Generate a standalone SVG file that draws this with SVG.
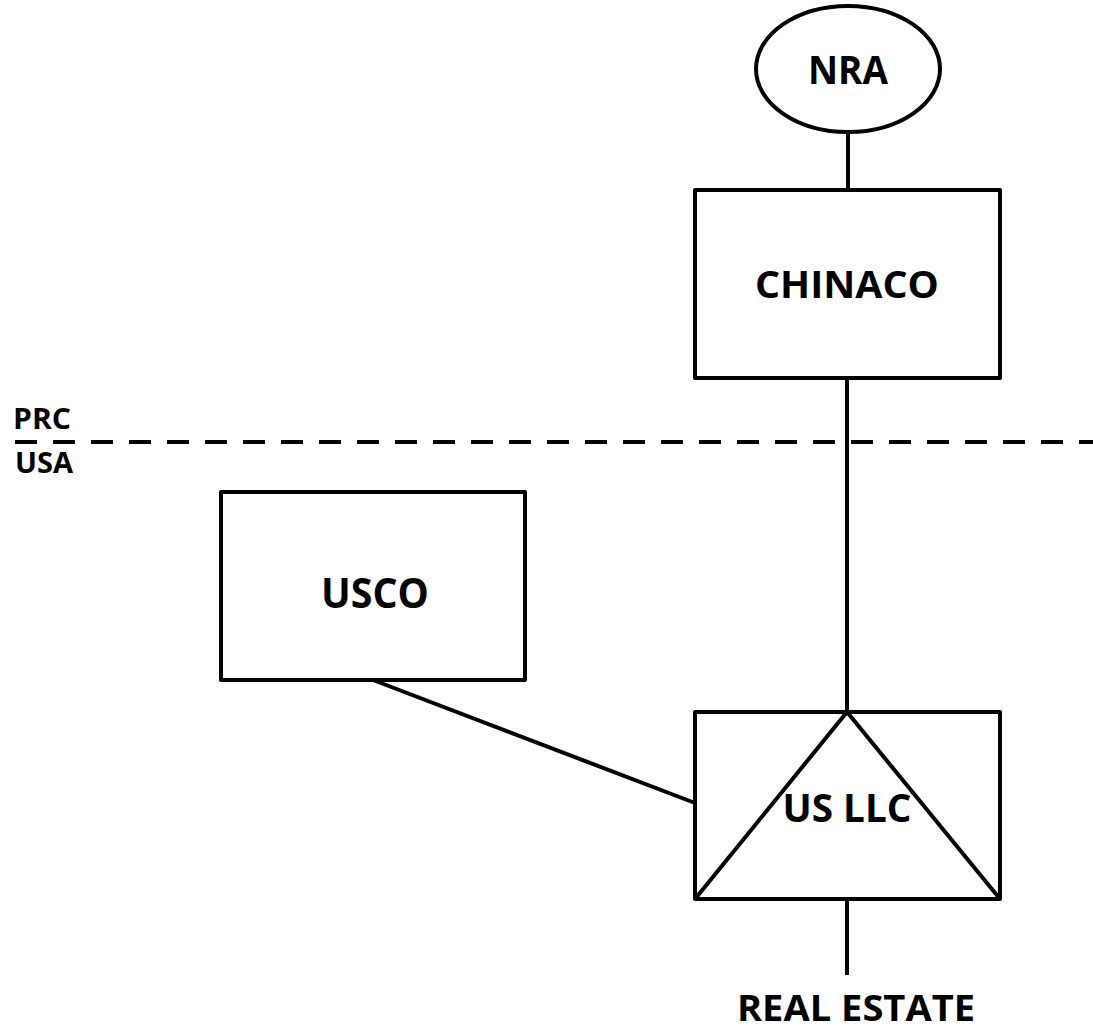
<svg xmlns="http://www.w3.org/2000/svg" width="1093" height="1033" viewBox="0 0 1093 1033">
  <style>
    .shape { fill: #ffffff; stroke: #000000; stroke-width: 4; stroke-linejoin: round; }
    .wire { fill: none; stroke: #000000; stroke-width: 4; }
    .label { font-family: "Open Sans", "Liberation Sans", sans-serif; font-weight: 700; fill: #000000; text-anchor: middle; }
    .side { font-family: "Open Sans", "Liberation Sans", sans-serif; font-weight: 700; fill: #000000; font-size: 29px; }
  </style>
  <rect x="0" y="0" width="1093" height="1033" fill="#ffffff"/>

  <!-- border between jurisdictions -->
  <g id="border">
    <line x1="15" y1="442" x2="1093" y2="442" stroke="#000000" stroke-width="4" stroke-dasharray="22 16"/>
    <text class="side" x="13" y="429" textLength="58" lengthAdjust="spacingAndGlyphs">PRC</text>
    <text class="side" x="15" y="473" textLength="58" lengthAdjust="spacingAndGlyphs">USA</text>
  </g>

  <!-- connectors -->
  <g id="connectors">
    <line class="wire" x1="848" y1="132" x2="848" y2="190"/>
    <line class="wire" x1="847" y1="378" x2="847" y2="712"/>
    <line class="wire" x1="373" y1="680" x2="695" y2="803"/>
    <line class="wire" x1="847" y1="899" x2="847" y2="975"/>
  </g>

  <g id="nra">
    <ellipse class="shape" cx="848" cy="69" rx="92" ry="63"/>
    <text class="label" x="848" y="84" font-size="40" textLength="80" lengthAdjust="spacingAndGlyphs">NRA</text>
  </g>

  <g id="chinaco">
    <rect class="shape" x="695" y="190" width="305" height="188"/>
    <text class="label" x="847" y="298" font-size="38" textLength="184" lengthAdjust="spacingAndGlyphs">CHINACO</text>
  </g>

  <g id="usco">
    <rect class="shape" x="221" y="492" width="304" height="188"/>
    <text class="label" x="375" y="608" font-size="41" textLength="108" lengthAdjust="spacingAndGlyphs">USCO</text>
  </g>

  <g id="us-llc">
    <rect class="shape" x="695" y="712" width="305" height="187"/>
    <polyline class="wire" points="695,899 847,712 1000,899" stroke-linejoin="miter"/>
    <text class="label" x="847" y="822" font-size="39" textLength="129" lengthAdjust="spacingAndGlyphs">US LLC</text>
  </g>

  <g id="real-estate">
    <text class="label" x="856" y="1021" font-size="36" textLength="238" lengthAdjust="spacingAndGlyphs">REAL ESTATE</text>
  </g>
</svg>
